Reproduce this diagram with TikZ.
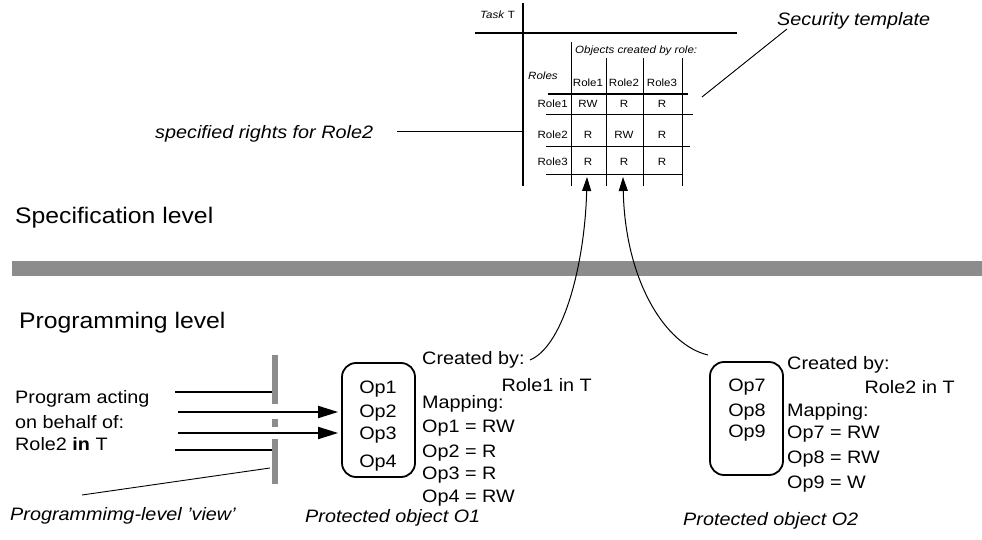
\documentclass[tikz,border=0pt]{standalone}
\usepackage{fontspec}
\setmainfont{Liberation Sans}[FakeStretch=1.1]
\usetikzlibrary{arrows.meta}

\begin{document}
\begin{tikzpicture}[x=1pt,y=-1pt,
  lbl/.style={inner sep=0pt, font=\fontsize{18}{20}\selectfont},
  ilbl/.style={inner sep=0pt, font=\fontsize{18}{20}\selectfont\itshape},
  lvl/.style={inner sep=0pt, font=\fontsize{22.5}{26}\selectfont},
  tab/.style={inner sep=0pt, font=\fontsize{10.5}{12}\selectfont},
  itab/.style={inner sep=0pt, font=\fontsize{10.5}{12}\selectfont\itshape},
  thickrule/.style={line width=2.6pt},
  thinrule/.style={line width=0.9pt},
  objbox/.style={draw, line width=1.8pt, rounded corners=14pt, inner sep=0pt},
  shade/.style={fill=black!45},
  callarrow/.style={line width=1.9pt, -{Triangle[length=20pt,width=12pt]}},
  plainline/.style={line width=1.9pt},
  linkarrow/.style={line width=1pt, -{Triangle[length=14pt,width=9pt]}},
  leader/.style={line width=0.9pt}]

\useasboundingbox (0,0) rectangle (982,540);

% ---------------- security template (table) ----------------
\draw[thickrule] (523,3) -- (523,186);
\draw[thickrule] (475,33) -- (737,33);
\draw[thinrule] (571,42) -- (571,186);
\foreach \xx in {606,643,682} \draw[thinrule] (\xx,58) -- (\xx,186);
\draw[thickrule] (548,94) -- (688,94);
\draw[thinrule] (546,114) -- (693,114);
\draw[thinrule] (546,146) -- (690,146);
\draw[thinrule] (546,174) -- (683,174);

\node[tab, anchor=base west] (task) at (480,19) {\textit{Task} T};
\node[itab, anchor=base west] (objs) at (575,54) {Objects created by role:};
\node[itab, anchor=base west] (roles) at (528,80) {Roles};
\node[tab, anchor=base] (h1) at (588,87) {Role1};
\node[tab, anchor=base] (h2) at (624,87) {Role2};
\node[tab, anchor=base] (h3) at (662,87) {Role3};
\node[tab, anchor=base east] (r1) at (568,108) {Role1};
\node[tab, anchor=base east] (r2) at (568,139) {Role2};
\node[tab, anchor=base east] (r3) at (568,166) {Role3};
\node[tab, anchor=base] (c11) at (588,108) {RW};
\node[tab, anchor=base] (c12) at (624,108) {R};
\node[tab, anchor=base] (c13) at (662,108) {R};
\node[tab, anchor=base] (c21) at (588,139) {R};
\node[tab, anchor=base] (c22) at (624,139) {RW};
\node[tab, anchor=base] (c23) at (662,139) {R};
\node[tab, anchor=base] (c31) at (588,166) {R};
\node[tab, anchor=base] (c32) at (624,166) {R};
\node[tab, anchor=base] (c33) at (662,166) {R};

% annotations of the template
\node[ilbl, anchor=base west] (sectpl) at (777,26) {Security template};
\coordinate (sectplfoot) at (787,29);
\coordinate (tabright) at (702,97);
\draw[leader] (sectplfoot) -- (tabright);

\node[ilbl, anchor=base west] (spec) at (155,139) {specified rights for Role2};
\coordinate (specstart) at (397,131);
\coordinate (specend) at (523,131);
\draw[leader] (specstart) -- (specend);

% ---------------- levels ----------------
\node[lvl, anchor=base west] (speclvl) at (15,223) {Specification level};
\fill[shade] (12,261) rectangle (982,276);
\node[lvl, anchor=base west] (proglvl) at (19,328) {Programming level};

% ---------------- program and its view ----------------
\node[lbl, anchor=base west] (p1) at (15,403) {Program acting};
\node[lbl, anchor=base west] (p2) at (15,428) {on behalf of:};
\node[lbl, anchor=base west] (p3) at (15,450) {Role2 \textbf{in} T};

\fill[shade] (272,355) rectangle (278,404);
\fill[shade] (272,419) rectangle (278,427);
\fill[shade] (272,439) rectangle (278,484);
\coordinate (bar) at (272,0);

\coordinate (l1) at (175,392);
\coordinate (l2) at (178,412);
\coordinate (l3) at (178,433);
\coordinate (l4) at (175,450);

\node[ilbl, anchor=base west] (view) at (10,520) {Programmimg-level 'view'};
\coordinate (viewfoot) at (82,495);
\coordinate (viewbar) at (270,468);
\draw[leader] (viewfoot) -- (viewbar);

% ---------------- protected object O1 ----------------
\node[objbox, minimum width=73pt, minimum height=114pt] (o1) at (378.5,420) {};
\node[lbl, anchor=base] (op1) at (378,393) {Op1};
\node[lbl, anchor=base] (op2) at (378,417) {Op2};
\node[lbl, anchor=base] (op3) at (378,439) {Op3};
\node[lbl, anchor=base] (op4) at (378,467) {Op4};

\draw[plainline] (l1) -- (l1 -| bar);
\draw[callarrow, shorten >=3pt] (l2) -- (l2 -| o1.west);
\draw[callarrow, shorten >=3pt] (l3) -- (l3 -| o1.west);
\draw[plainline] (l4) -- (l4 -| bar);

\node[lbl, anchor=base west] (cb1) at (422,364) {Created by:};
\node[lbl, anchor=base east] (rl1) at (592,391) {Role1 in T};
\node[lbl, anchor=base west] (mp1) at (422,408) {Mapping:};
\node[lbl, anchor=base west] (m11) at (422,432) {Op1 = RW};
\node[lbl, anchor=base west] (m12) at (422,457) {Op2 = R};
\node[lbl, anchor=base west] (m13) at (422,479) {Op3 = R};
\node[lbl, anchor=base west] (m14) at (422,502) {Op4 = RW};
\node[ilbl, anchor=base west] (po1) at (305,522) {Protected object O1};

% ---------------- protected object O2 ----------------
\node[objbox, minimum width=73pt, minimum height=113pt] (o2) at (746.5,418.5) {};
\node[lbl, anchor=base] (op7) at (747,391) {Op7};
\node[lbl, anchor=base] (op8) at (747,416) {Op8};
\node[lbl, anchor=base] (op9) at (747,437) {Op9};

\node[lbl, anchor=base west] (cb2) at (787,369) {Created by:};
\node[lbl, anchor=base east] (rl2) at (955,393) {Role2 in T};
\node[lbl, anchor=base west] (mp2) at (787,416) {Mapping:};
\node[lbl, anchor=base west] (m27) at (787,438) {Op7 = RW};
\node[lbl, anchor=base west] (m28) at (787,463) {Op8 = RW};
\node[lbl, anchor=base west] (m29) at (787,488) {Op9 = W};
\node[ilbl, anchor=base west] (po2) at (683,525) {Protected object O2};

% ---------------- links from creators to template columns ----------------
\coordinate (link1s) at (530,360);
\coordinate (link1e) at (587,177);
\coordinate (link2s) at (708,355);
\coordinate (link2e) at (623,177);
\draw[linkarrow] (link1s) .. controls (565,345) and (585,260) .. (link1e);
\draw[linkarrow] (link2s) .. controls (665,345) and (625,280) .. (link2e);

\end{tikzpicture}
\end{document}
